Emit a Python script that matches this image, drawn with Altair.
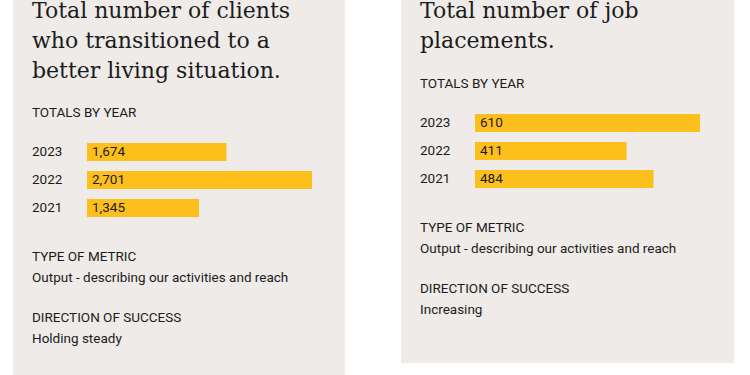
import altair as alt
import pandas as pd

# ---- data ----
years = ["2023", "2022", "2021"]
clients_values = [1674, 2701, 1345]
jobs_values = [610, 411, 484]

left_title = ["Total number of clients", "who transitioned to a", "better living situation."]
right_title = ["Total number of job", "placements."]
section_label = "TOTALS BY YEAR"
metric_label = "TYPE OF METRIC"
metric_value = "Output - describing our activities and reach"
direction_label = "DIRECTION OF SUCCESS"
left_direction = "Holding steady"
right_direction = "Increasing"

PANEL = "#EEEBE8"
BAR = "#FDBF1C"
INK = "#1c1c1c"
SERIF = "DejaVu Serif"
SANS = "Roboto"


def panel(values, title_lines, direction, width, height, shift):
    df = pd.DataFrame({"year": years, "value": values})
    xmax = max(values)
    y0 = 143 - shift  # top of first bar
    xs = alt.Scale(domain=[0, xmax], range=[74, 299])
    ys = alt.Scale(domain=years, range=[y0, y0 + 74], paddingInner=10 / 28, paddingOuter=0)

    base = alt.Chart(df)
    bars = base.mark_bar(color=BAR, cornerRadius=0).encode(
        x=alt.X("value:Q", scale=xs, axis=None),
        x2=alt.value(74),
        y=alt.Y("year:N", scale=ys, axis=None),
    )
    year_txt = base.mark_text(align="left", baseline="middle", font=SANS, fontSize=13.5, color=INK).encode(
        x=alt.value(19),
        y=alt.Y("year:N", scale=ys, axis=None),
        text="year:N",
    )
    val_txt = base.mark_text(align="left", baseline="middle", font=SANS, fontSize=13.5, color=INK).encode(
        x=alt.value(79),
        y=alt.Y("year:N", scale=ys, axis=None),
        text=alt.Text("value:Q", format=","),
    )

    tdf = pd.DataFrame({"t": ["\n".join(title_lines)]})
    title = alt.Chart(tdf).mark_text(
        align="left", baseline="alphabetic", font=SERIF, fontSize=22, color=INK,
        lineBreak="\n", lineHeight=30,
    ).encode(x=alt.value(19), y=alt.value(18), text="t:N")

    rows = [section_label, metric_label, metric_value, direction_label, direction]
    ypos = [113 - shift, 257 - shift, 278 - shift, 318 - shift, 339 - shift]
    lbl_layers = []
    for t, yy in zip(rows, ypos):
        lbl_layers.append(
            alt.Chart(pd.DataFrame({"t": [t]})).mark_text(
                align="left", baseline="middle", font=SANS, fontSize=13.5, color=INK
            ).encode(x=alt.value(19), y=alt.value(yy), text="t:N")
        )

    return alt.layer(bars, year_txt, val_txt, title, *lbl_layers).properties(width=width, height=height)


left = panel(clients_values, left_title, left_direction, 332, 375, 0)
right = panel(jobs_values, right_title, right_direction, 333, 363, 29)

chart = alt.hconcat(left, right, spacing=56).properties(
    padding={"left": 13, "top": 0, "right": 0, "bottom": 0},
    background="white",
).configure_view(fill=PANEL, stroke=None).resolve_scale(x="independent", y="independent")

chart.save("out.html", embed_options={"renderer": "svg", "actions": False})
